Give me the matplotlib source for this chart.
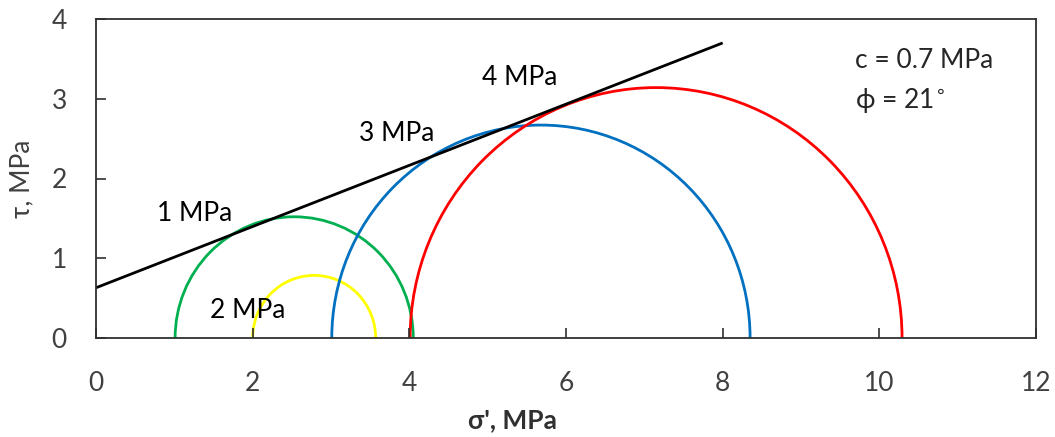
import matplotlib
matplotlib.use("Agg")
import matplotlib.pyplot as plt
from matplotlib.patches import Arc

plt.rcParams['font.family'] = ['Lato', 'DejaVu Sans']

# Mohr circles: minor and major principal effective stresses (MPa)
circle_labels = ["1 MPa", "2 MPa", "3 MPa", "4 MPa"]
sigma3 = [1.01, 2.00, 3.01, 4.01]
sigma1 = [4.05, 3.57, 8.35, 10.29]
circle_colors = ["#00B050", "#FFFF00", "#0070C0", "#FF0000"]
label_x = [1.26, 1.94, 3.84, 5.41]
label_y = [1.56, 0.35, 2.56, 3.27]

# failure envelope end points
env_sigma = [0, 8]
env_tau = [0.63, 3.70]

fs = 19

fig = plt.figure(figsize=(10.55, 4.37), dpi=100)
ax = fig.add_axes([96 / 1055, 1 - 338 / 437, 940 / 1055, 319 / 437])

for s3, s1, col in zip(sigma3, sigma1, circle_colors):
    c = (s1 + s3) / 2
    d = s1 - s3
    ax.add_patch(Arc((c, 0), d, d, theta1=0, theta2=180, color=col, lw=2.0))

ax.plot(env_sigma, env_tau, color="black", lw=2.0, solid_capstyle="butt")

for txt, x, y in zip(circle_labels, label_x, label_y):
    ax.text(x, y, txt, fontsize=fs, ha="center", va="center", color="black")

ax.text(9.69, 3.48, "c = 0.7 MPa", fontsize=fs, ha="left", va="center",
        color="#262626")
ax.text(9.69, 2.98, r"ϕ = 21$^{\circ}$", fontsize=fs, ha="left", va="center",
        color="#262626")

ax.set_xlim(0, 12)
ax.set_ylim(0, 4)
ax.set_xticks(range(0, 13, 2))
ax.set_yticks(range(0, 5))
ax.tick_params(direction="in", length=7, width=1.2, labelsize=fs,
               labelcolor="#404040", color="#303030")
ax.tick_params(axis="x", pad=24)
ax.tick_params(axis="y", pad=21)
for sp in ax.spines.values():
    sp.set_linewidth(1.3)
    sp.set_color("#303030")

ax.set_xlabel("σ', MPa", fontsize=fs, fontweight="bold", color="#303030",
              va="center")
ax.xaxis.set_label_coords(0.443, -0.257)
ax.set_ylabel("τ, MPa", fontsize=fs, color="#404040", va="center")
ax.yaxis.set_label_coords(-0.079, 0.5)

fig.savefig("out.png", dpi=100)
